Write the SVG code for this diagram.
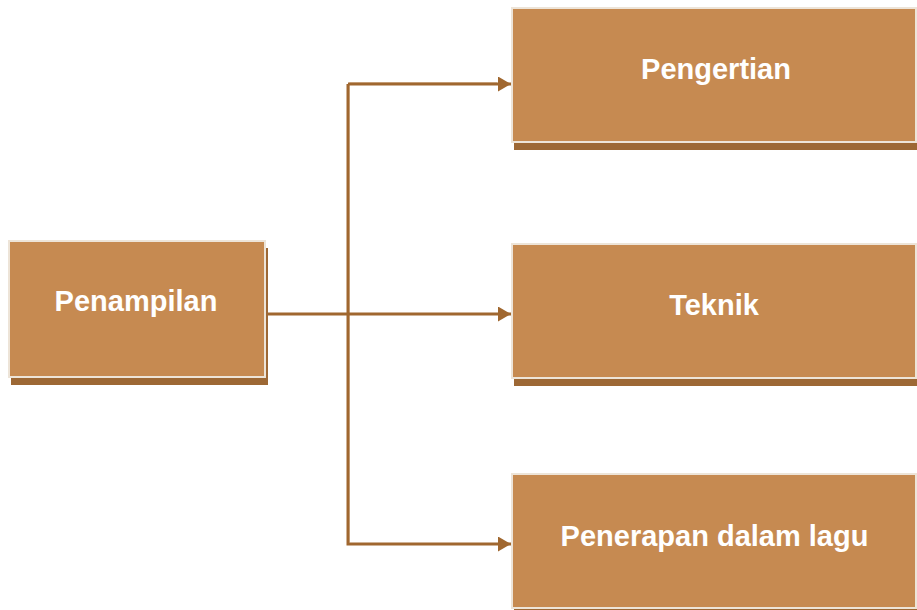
<svg xmlns="http://www.w3.org/2000/svg" width="917" height="610" viewBox="0 0 917 610">
<style>
.shadow{fill:#9D6835}
.box{fill:#C68A51;stroke:#EDE4D8;stroke-width:2}
.label{font-family:"Liberation Sans",Arial,sans-serif;font-weight:bold;font-size:29px;fill:#FFFFFF;text-anchor:middle}
.conn{fill:none;stroke:#A0672F;stroke-width:3}
.hl{fill:none;stroke:#E6D2BC;stroke-width:1}
</style>
<defs>
<marker id="arrow" markerUnits="userSpaceOnUse" markerWidth="14" markerHeight="15" refX="13" refY="7.5" orient="auto">
<path d="M0,0 L13,7.5 L0,15 z" fill="#A0672F"/>
</marker>
</defs>
<rect width="917" height="610" fill="#FFFFFF"/>
<g id="connectors">
<path class="hl" d="M349.5,542 L349.5,82.5 L497,82.5"/>
<path class="conn" d="M348,84 L511,84" marker-end="url(#arrow)"/>
<path class="conn" d="M348,84 L348,544 L511,544" marker-end="url(#arrow)"/>
<path class="conn" d="M266,314 L511,314" marker-end="url(#arrow)"/>
</g>
<g id="node-penampilan">
<rect class="shadow" x="11" y="248" width="257" height="137"/>
<rect class="box" x="9" y="241" width="256" height="136"/>
<text class="label" x="136" y="311">Penampilan</text>
</g>
<g id="node-pengertian">
<rect class="shadow" x="514" y="15" width="406" height="135"/>
<rect class="box" x="512" y="8" width="404" height="134"/>
<text class="label" x="716" y="79">Pengertian</text>
</g>
<g id="node-teknik">
<rect class="shadow" x="514" y="251" width="406" height="135"/>
<rect class="box" x="512" y="244" width="404" height="134"/>
<text class="label" x="714" y="315">Teknik</text>
</g>
<g id="node-penerapan">
<rect class="shadow" x="514" y="481" width="406" height="135"/>
<rect class="box" x="512" y="474" width="404" height="134"/>
<text class="label" x="714.5" y="546">Penerapan dalam lagu</text>
</g>
</svg>
